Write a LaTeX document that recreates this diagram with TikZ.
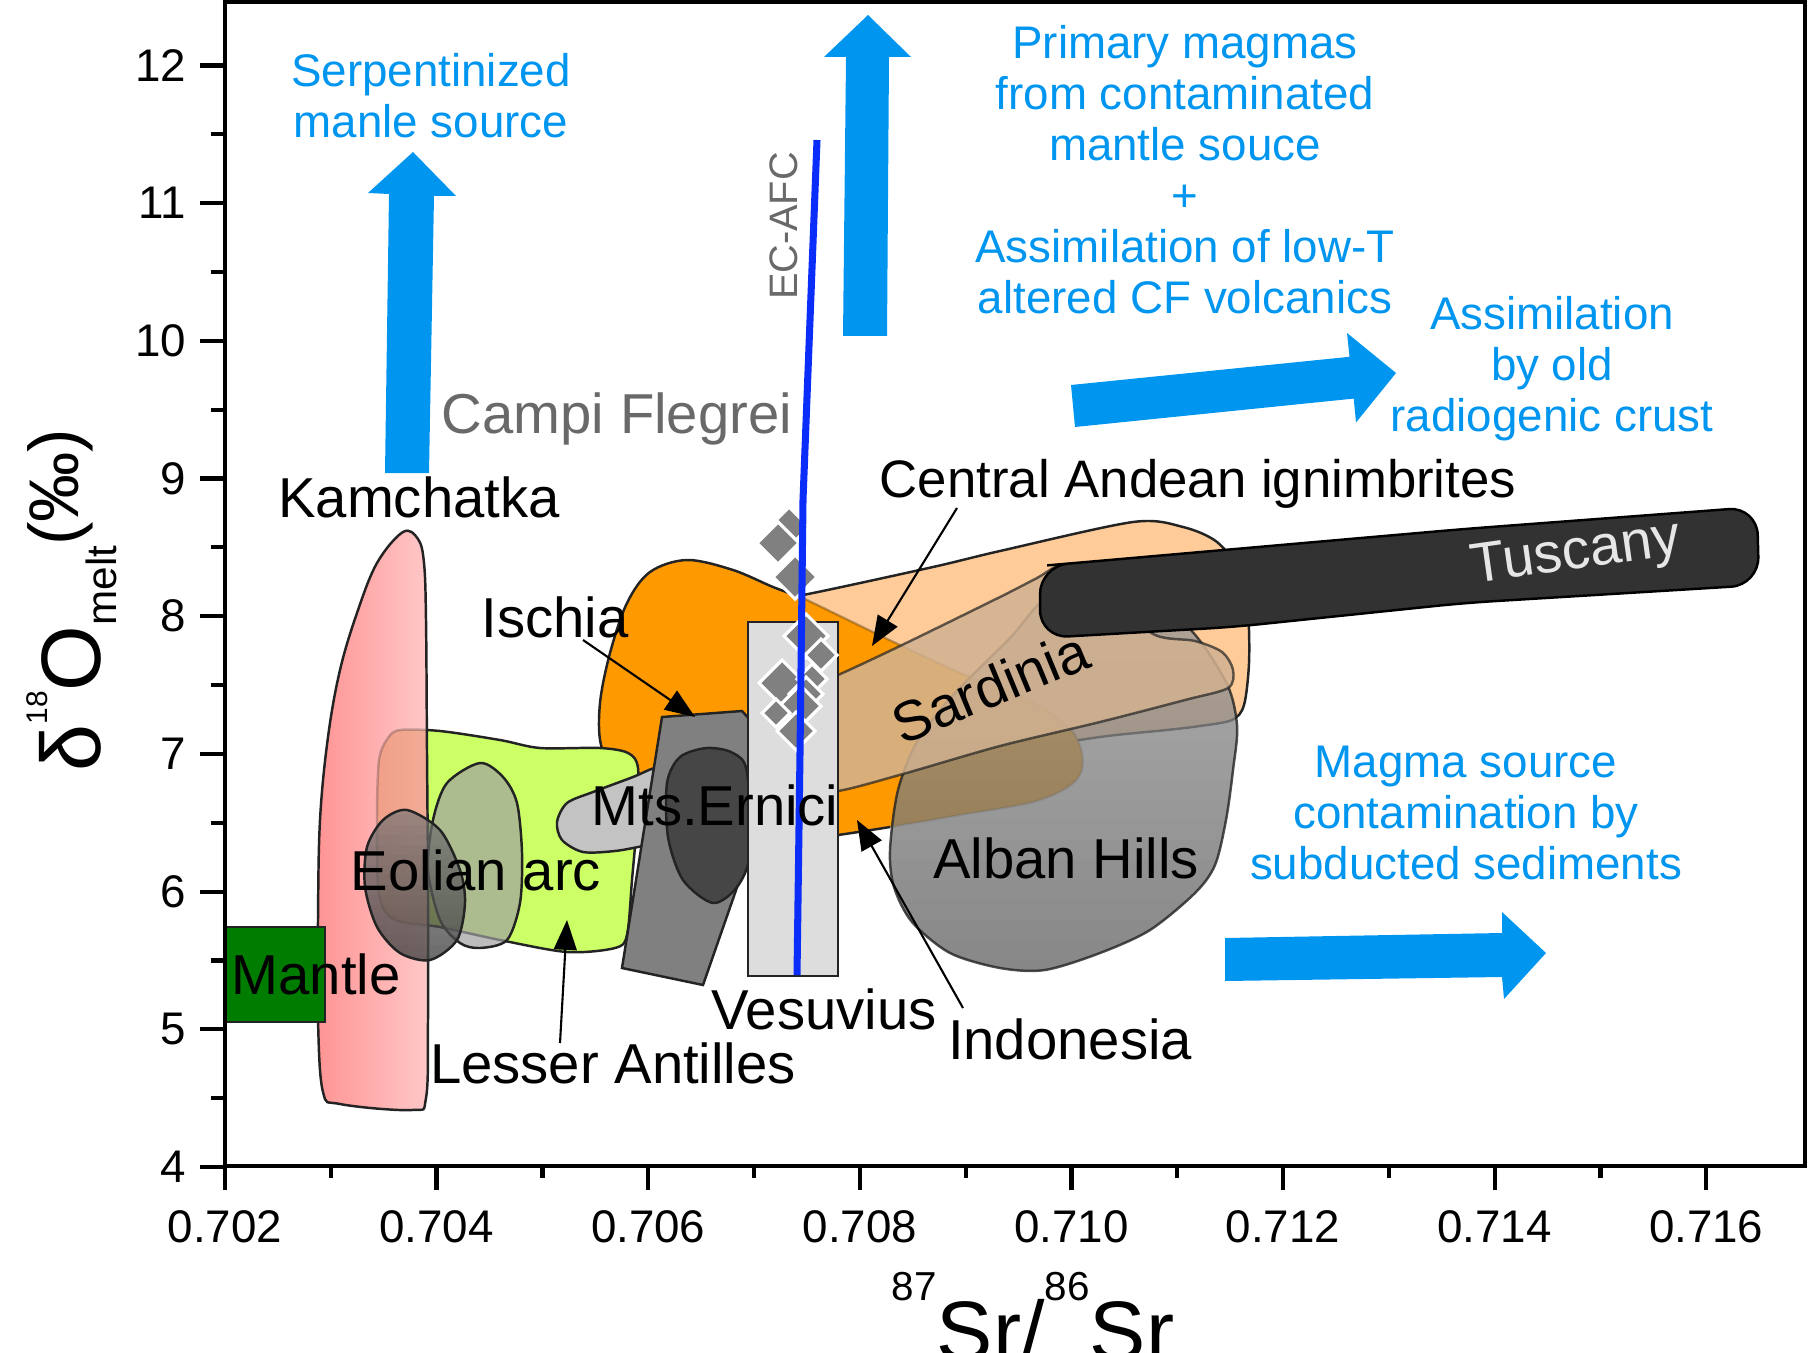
\documentclass[tikz,border=0pt]{standalone}
\usepackage{fontspec}
\setmainfont{Liberation Sans}
\usetikzlibrary{arrows.meta}

\definecolor{arrowblue}{RGB}{0,150,240}
\definecolor{ecafc}{RGB}{10,45,250}
\definecolor{cfgray}{RGB}{105,105,105}
\definecolor{cfOrange}{RGB}{255,153,0}
\definecolor{andes}{RGB}{255,204,153}
\definecolor{sardinia}{RGB}{210,178,145}
\definecolor{antilles}{RGB}{204,255,102}
\definecolor{mantle}{RGB}{0,125,0}
\definecolor{outline}{RGB}{35,35,35}
\definecolor{kamLeft}{RGB}{255,148,148}
\definecolor{kamRight}{RGB}{255,200,200}
\definecolor{tint}{RGB}{225,140,90}

% outlines used more than once
\newcommand\kamPath{plot[smooth cycle, tension=0.6] coordinates {(403,532) (418,539) (424,563) (426,620) (427,753) (428,887) (428,1020) (426,1098) (412,1110) (340,1104) (323,1092) (318,1020) (318,920) (320,820) (328,737) (340,670) (357,613) (377,563)}}
\newcommand\antPath{plot[smooth cycle, tension=0.5] coordinates {(400,730) (440,731) (500,740) (540,748) (600,748) (628,753) (638,768) (637,820) (632,880) (627,935) (615,948) (567,952) (500,940) (440,927) (395,920) (379,895) (377,820) (379,760) (388,738)}}
\newcommand\albanPath{plot[smooth cycle, tension=0.5] coordinates {(890,850) (898,790) (918,740) (955,693) (1010,638) (1047,598) (1100,590) (1180,620) (1225,680) (1237,725) (1233,770) (1226,820) (1215,865) (1195,893) (1150,930) (1100,953) (1045,970) (1000,968) (950,953) (912,922) (894,887)}}
\newcommand\eolPath{plot[smooth cycle] coordinates {(407,810) (440,830) (460,870) (465,903) (457,940) (430,960) (400,953) (377,927) (365,887) (367,847) (383,820)}}

\begin{document}
\begin{tikzpicture}[
		%Global config
		x=0.01cm, y=-0.01cm,
		%Styles
		edge/.style={draw=outline, line width=0.7pt},
		lbl/.style={font=\fontsize{16}{19}\selectfont, inner sep=0pt, anchor=base},
		note/.style={font=\fontsize{13}{14.5}\selectfont, text=arrowblue, align=center, inner sep=0pt, anchor=north},
		ticklbl/.style={font=\fontsize{13}{15}\selectfont, inner sep=0pt},
		pointer/.style={-{Triangle[length=8.5pt,width=6.5pt]}, line width=0.6pt},
		fat/.style={fill=arrowblue},
		diam/.style={fill={rgb,255:red,128;green,128;blue,128}, draw=white, line width=0.9pt},
		axis/.style={line width=1.2pt}
		]
		\useasboundingbox (0,0) rectangle (1813,1352);

		% Central Andean ignimbrites
		\filldraw[edge, fill=andes] plot[smooth cycle, tension=0.5] coordinates {(760,600) (803,595) (933,567) (1000,551) (1133,522) (1183,527) (1217,542) (1240,572) (1248,613) (1249,663) (1244,705) (1232,720) (1200,726) (1167,730) (1100,737) (1000,753) (903,775) (838,793) (790,800) (760,760)};

		% orange field, its rim seen faintly where it runs under the others
		\fill[cfOrange] plot[smooth cycle, tension=0.55] coordinates {(803,598) (773,587) (733,570) (687,560) (650,572) (627,603) (610,653) (600,703) (601,745) (618,775) (660,815) (710,842) (760,845) (838,835) (890,827) (960,815) (1040,800) (1080,775) (1075,735) (1030,700) (970,677) (900,645)};
		\draw[edge] plot[smooth, tension=0.55] coordinates {(803,598) (773,587) (733,570) (687,560) (650,572) (627,603) (610,653) (600,703) (601,745) (618,775) (660,815) (710,842) (760,845) (838,835) (890,827)};
		\draw[edge, draw opacity=0.3] plot[smooth, tension=0.55] coordinates {(890,827) (960,815) (1040,800) (1080,775) (1075,735) (1030,700) (970,677) (900,645) (803,598)};

		% Alban Hills, darker towards the bottom
		\fill[fill={rgb,255:red,150;green,150;blue,150}, fill opacity=0.75] \albanPath;
		\begin{scope}
			\clip \albanPath;
			\foreach \i in {0,...,17}
				\fill[black, fill opacity=0.013] (880,{620+20*\i}) rectangle (1250,1000);
		\end{scope}
		\draw[edge, draw opacity=0.8] \albanPath;

		% Sardinia
		\filldraw[edge, draw opacity=0.7, fill=sardinia, fill opacity=0.85] plot[smooth cycle, tension=0.5] coordinates {(838,675) (900,646) (1000,597) (1037,578) (1065,564) (1110,575) (1150,632) (1195,641) (1222,652) (1233,670) (1228,688) (1185,700) (1100,722) (1000,746) (903,774) (838,791) (800,790) (800,690)};

		% Tuscany
		\filldraw[draw=black, line width=0.7pt, fill={rgb,255:red,50;green,50;blue,50}, rounded corners=2.8mm] (1075,563) -- (1464,529) -- (1757,507) -- (1759,585) -- (1464,603) -- (1233,627) -- (1040,638) -- (1040,566) -- cycle;

		% Lesser Antilles under Kamchatka
		\filldraw[edge, fill=antilles] \antPath;
		\path[left color=kamLeft, right color=kamRight] \kamPath;
		\begin{scope}
			\clip \kamPath;
			\fill[tint, fill opacity=0.45] \antPath;
			\draw[edge, draw opacity=0.25] \antPath;
		\end{scope}
		\draw[edge] \kamPath;

		% Eolian arc
		\filldraw[edge, fill={rgb,255:red,160;green,160;blue,160}, fill opacity=0.7] plot[smooth cycle] coordinates {(480,763) (503,777) (517,803) (522,853) (520,903) (507,940) (480,948) (460,943) (440,920) (428,870) (433,820) (447,783)};
		\fill[fill={rgb,255:red,120;green,120;blue,120}, fill opacity=0.7] \eolPath;
		\begin{scope}
			\clip \eolPath;
			\foreach \i in {0,...,14}
				\fill[black, fill opacity=0.025] (360,{815+10*\i}) rectangle (470,965);
		\end{scope}
		\draw[edge] \eolPath;

		% Mantle
		\filldraw[edge, fill=mantle] (224,927) rectangle (325,1022);

		% Mts. Ernici and Ischia
		\filldraw[edge, fill={rgb,255:red,195;green,195;blue,195}] plot[smooth cycle, tension=0.5] coordinates {(557,822) (567,803) (593,792) (633,777) (655,768) (672,770) (672,840) (643,846) (615,851) (583,852) (562,840)};
		\filldraw[edge, fill={rgb,255:red,128;green,128;blue,128}] (662,717) -- (742,711) -- (752,722) -- (750,850) -- (703,985) -- (622,968) -- cycle;
		\filldraw[edge, fill={rgb,255:red,70;green,70;blue,70}] plot[smooth cycle] coordinates {(707,748) (733,753) (747,772) (750,853) (737,887) (713,903) (683,880) (668,837) (667,783) (680,757)};

		% Vesuvius
		\filldraw[edge, fill={rgb,255:red,221;green,221;blue,221}] (748,622) rectangle (838,976);
		\foreach \x/\y/\r in {789/527/20, 778/543/21, 795/577/22, 806/636/22, 821/655/16, 782/683/23, 812/679/15, 806/694/17, 800/706/21, 776/713/14, 796/731/19}
			\filldraw[diam] ({\x-\r},\y) -- (\x,{\y-\r}) -- ({\x+\r},\y) -- (\x,{\y+\r}) -- cycle;

		% EC-AFC model
		\draw[line width=2pt, ecafc] (797,975) -- (800,753) -- (803,500) -- (817,140);
		\node[font=\fontsize{11.3}{13}\selectfont, text=cfgray, rotate=90, inner sep=0pt] (ecafcLbl) at (784,226) {EC-AFC};

		% blue trend arrows
		\fill[fat] (385,473) -- (389,194) -- (368,193) -- (413,152) -- (456,196) -- (434,196) -- (429,473) -- cycle;
		\fill[fat] (843,336) -- (846,57) -- (824,57) -- (868,15) -- (911,57) -- (889,57) -- (887,336) -- cycle;
		\fill[fat] (1075,427) -- (1071,385) -- (1349.5,356.8) -- (1347,333) -- (1396,373) -- (1356,422.5) -- (1353.7,398.6) -- cycle;
		\fill[fat] (1225,981) -- (1225,938) -- (1502,933) -- (1502,912) -- (1546,953) -- (1504,999) -- (1502,977) -- cycle;

		\node[note] (serpent) at (431,53) {Serpentinized\\manle source};
		\node[note] (primary) at (1185,25) {Primary magmas\\from contaminated\\mantle souce\\+\\Assimilation of low-T\\altered CF volcanics};
		\node[note] (oldcrust) at (1552,296) {Assimilation\\by old\\radiogenic crust};
		\node[note] (sediments) at (1466,745) {Magma source\\contamination by\\subducted sediments};

		% field labels
		\node[lbl] (kamchatka) at (419,517) {Kamchatka};
		\node[lbl, text=cfgray] (campi) at (617,433) {Campi Flegrei};
		\node[lbl, font=\fontsize{15}{18}\selectfont] (andean) at (1198,497) {Central Andean ignimbrites};
		\node[lbl] (ischia) at (555,637) {Ischia};
		\node[lbl] (ernici) at (715,825) {Mts.Ernici};
		\node[lbl] (eolian) at (476,890) {Eolian arc};
		\node[lbl] (mantleLbl) at (316,994) {Mantle};
		\node[lbl] (alban) at (1066,878) {Alban Hills};
		\node[lbl] (vesuvius) at (824,1029) {Vesuvius};
		\node[lbl] (indonesia) at (1070,1059) {Indonesia};
		\node[lbl] (antillesLbl) at (613,1083) {Lesser Antilles};
		\node[lbl, anchor=center, rotate=22.5] (sardiniaLbl) at (990,687) {Sardinia};
		\node[lbl, anchor=center, rotate=8, text={rgb,255:red,230;green,230;blue,230}] (tuscany) at (1576,555) {Tuscany};

		% pointers
		\coordinate (ischiaTail) at (583,640);
		\coordinate (ischiaTip) at (695,717);
		\coordinate (andeanTail) at (957,508);
		\coordinate (andeanTip) at (872,646);
		\coordinate (indonesiaTail) at (963,1008);
		\coordinate (indonesiaTip) at (857,820);
		\coordinate (antillesTail) at (560,1043);
		\coordinate (antillesTip) at (567,920);
		\draw[pointer] (ischiaTail) -- (ischiaTip);
		\draw[pointer] (andeanTail) -- (andeanTip);
		\draw[pointer] (indonesiaTail) -- (indonesiaTip);
		\draw[pointer] (antillesTail) -- (antillesTip);

		% axes
		\draw[axis] (225,2) rectangle (1805,1166);
		\foreach \k/\t in {0/0.702, 1/0.704, 2/0.706, 3/0.708, 4/0.710, 5/0.712, 6/0.714, 7/0.716} {
			\draw[axis] ({225+211.6*\k},1166) -- ({225+211.6*\k},1190);
			\node[ticklbl, anchor=north] (xt\k) at ({225+211.6*\k},1210) {\t};
		}
		\foreach \k in {0,...,6}
			\draw[axis] ({330.8+211.6*\k},1166) -- ({330.8+211.6*\k},1178);
		\foreach \d in {4,...,12} {
			\draw[axis] (200,{1167-137.7*(\d-4)}) -- (225,{1167-137.7*(\d-4)});
			\node[ticklbl, anchor=east] (yt\d) at (187,{1167-137.7*(\d-4)}) {\d};
		}
		\foreach \d in {4.5,5.5,...,11.5}
			\draw[axis] (211,{1167-137.7*(\d-4)}) -- (225,{1167-137.7*(\d-4)});

		\node[font=\fontsize{24}{26}\selectfont, inner sep=0pt, anchor=base] (xtitle) at (1033,1360) {\raisebox{17pt}{\fontsize{11.5}{12}\selectfont 87}Sr/\raisebox{17pt}{\fontsize{11.5}{12}\selectfont 86}Sr};
		\node[font=\fontsize{24}{26}\selectfont, inner sep=0pt, anchor=base, rotate=90] (ytitle) at (100,600) {δ\raisebox{14.8pt}{\fontsize{8.5}{9}\selectfont 18}O\raisebox{-4.8pt}{\fontsize{12}{13}\selectfont melt}\raisebox{6pt}{\fontsize{20}{22}\selectfont (‰)}};
	\end{tikzpicture}
\end{document}
